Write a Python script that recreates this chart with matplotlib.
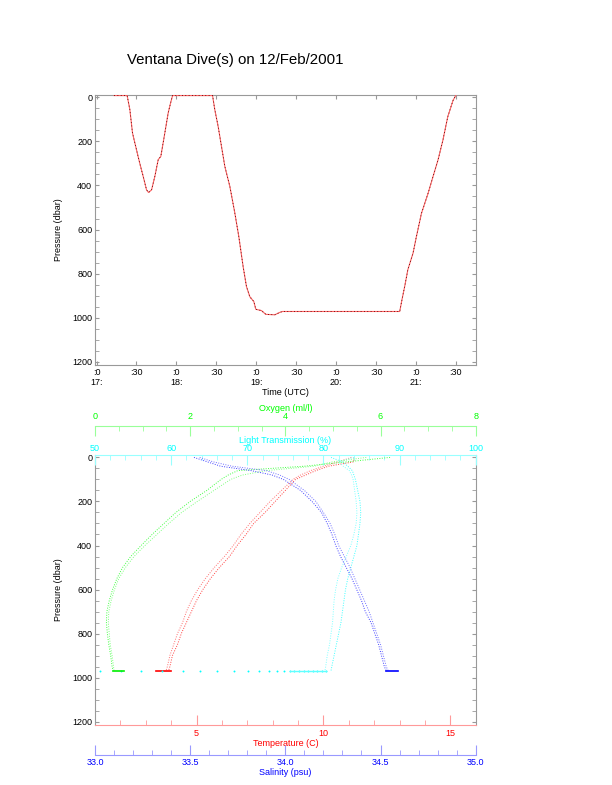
import matplotlib
matplotlib.use("Agg")
import matplotlib.pyplot as plt
from matplotlib.ticker import MultipleLocator, FormatStrFormatter

plt.rcParams['font.family'] = ['Liberation Sans', 'DejaVu Sans']

# dive track (hours UTC, dbar)
DIVE_TIME = [17.22, 17.383, 17.417, 17.45, 17.50, 17.54, 17.584, 17.626, 17.651, 17.689,
             17.73, 17.772, 17.805, 17.855, 17.897, 17.927, 17.952, 18.453, 18.481, 18.523,
             18.565, 18.607, 18.67, 18.732, 18.782, 18.836, 18.878, 18.92, 18.97, 18.995,
             19.066, 19.12, 19.233, 19.296, 19.33, 20.798, 20.827, 20.861, 20.90, 20.965,
             21.007, 21.07, 21.153, 21.215, 21.278, 21.34, 21.40, 21.466, 21.50]
DIVE_PRES = [-8, -8, 56, 162, 238, 298, 359, 420, 432, 420,
             359, 283, 268, 162, 71, 26, -8, -8, 56, 132,
             223, 314, 405, 525, 632, 768, 859, 905, 927, 962,
             968, 985, 987, 976, 972, 972, 917, 857, 782, 707,
             632, 527, 436, 360, 284, 193, 88, 14, -8]
TIME_TICKS = [17.0, 17.5, 18.0, 18.5, 19.0, 19.5, 20.0, 20.5, 21.0, 21.5]
TIME_LABELS = [":0\n17:", ":30\n", ":0\n18:", ":30\n", ":0\n19:", ":30\n",
               ":0\n20:", ":30\n", ":0\n21:", ":30\n"]

# profiles: down and up casts
PROF_PRES = [0, 20, 40, 60, 80, 100, 150, 200, 250, 300, 350, 400, 450, 500,
             550, 600, 650, 700, 750, 800, 850, 900, 950, 968]
TEMP_DOWN = [11.2, 11.2, 10.2, 9.7, 9.3, 8.9, 8.5, 8.1, 7.7, 7.25, 6.95, 6.6, 6.3, 5.9,
             5.55, 5.25, 5.0, 4.8, 4.6, 4.4, 4.25, 4.05, 3.95, 3.9]
TEMP_UP = [11.1, 10.6, 10.0, 9.5, 9.1, 8.8, 8.35, 7.9, 7.5, 7.1, 6.75, 6.45, 6.1, 5.7,
           5.35, 5.05, 4.8, 4.6, 4.45, 4.25, 4.1, 3.95, 3.85, 3.8]
SAL_DOWN = [33.52, 33.59, 33.66, 33.82, 33.93, 33.99, 34.08, 34.14, 34.19, 34.22, 34.245,
            34.265, 34.29, 34.32, 34.35, 34.375, 34.40, 34.42, 34.45, 34.47, 34.49,
            34.505, 34.52, 34.53]
SAL_UP = [33.55, 33.62, 33.72, 33.90, 33.97, 34.02, 34.10, 34.16, 34.20, 34.235, 34.26,
          34.28, 34.31, 34.34, 34.365, 34.39, 34.415, 34.44, 34.46, 34.48, 34.50,
          34.515, 34.53, 34.54]
OXY_DOWN = [6.2, 5.3, 4.4, 3.0, 2.8, 2.65, 2.35, 2.0, 1.7, 1.45, 1.2, 0.97, 0.75, 0.58,
            0.46, 0.37, 0.30, 0.25, 0.24, 0.26, 0.29, 0.33, 0.36, 0.38]
OXY_UP = [5.7, 5.0, 4.6, 3.6, 3.1, 2.85, 2.5, 2.15, 1.82, 1.55, 1.3, 1.05, 0.82, 0.64,
          0.5, 0.41, 0.34, 0.29, 0.28, 0.30, 0.32, 0.36, 0.39, 0.40]
LIGHT_DOWN = [81.0, 82.5, 83.2, 83.8, 84.0, 84.2, 84.5, 84.8, 84.9, 84.8, 84.6, 84.4, 84.0,
              83.6, 83.2, 82.9, 82.7, 82.5, 82.3, 82.0, 81.7, 81.4, 81.1, 81.0]
LIGHT_UP = [84.0, 82.0, 82.6, 83.4, 83.7, 83.9, 84.1, 84.3, 84.4, 84.3, 84.0, 83.6, 83.0,
            82.4, 81.9, 81.6, 81.4, 81.3, 81.2, 81.0, 80.8, 80.5, 80.3, 80.2]

# time spent at the bottom
BOTTOM_PRES = 968
TEMP_BOTTOM = [3.4, 4.0]
OXY_BOTTOM = [0.38, 0.6]
SAL_BOTTOM = [34.53, 34.59]
LIGHT_BOTTOM = [50.6, 53.4, 56.0, 58.8, 61.5, 63.8, 66.0, 68.2, 70.1, 71.6, 72.8, 73.9,
                74.8, 75.6, 76.2, 76.8, 77.4, 78.0, 78.6, 79.2, 79.8, 80.4]

GRAY = "#999999"
FS = 6.5
DOT = (0, (1, 1.5))


def style_yaxis(ax):
    ax.set_ylim(1215, -12)
    ax.yaxis.set_major_locator(MultipleLocator(200))
    ax.yaxis.set_minor_locator(MultipleLocator(50))
    ax.tick_params(axis="y", which="both", direction="in", left=True, right=True,
                   length=3, color=GRAY, labelsize=FS, pad=2)
    ax.set_ylabel("Pressure (dbar)", fontsize=FS)
    ax.yaxis.set_label_coords(-0.085, 0.5)


def color_axis(ax, side, color, tick_color, lims, major, minor, label, pad_tick, pad_lab):
    ax.set_xlim(*lims)
    ax.xaxis.set_major_locator(MultipleLocator(major))
    ax.xaxis.set_minor_locator(MultipleLocator(minor))
    ax.tick_params(axis="x", which="major", direction="in", length=7.5, color=tick_color,
                   labelcolor=color, labelsize=FS, pad=pad_tick)
    ax.tick_params(axis="x", which="minor", direction="in", length=3.5, color=tick_color)
    ax.spines[side].set_color(tick_color)
    ax.set_xlabel(label, color=color, fontsize=FS, labelpad=pad_lab)


fig = plt.figure(figsize=(6.12, 7.85), dpi=100)
fig.text(0.384, 0.9236, "Ventana Dive(s) on 12/Feb/2001", ha="center", va="center",
         fontsize=10.8)

# top: pressure vs time
ax1 = fig.add_axes([0.1552, 0.535, 0.6221, 0.3444])
ax1.plot(DIVE_TIME, DIVE_PRES, color="#ff6060", linewidth=0.8, zorder=3)
ax1.plot(DIVE_TIME, DIVE_PRES, color="#400000", linewidth=0.6, linestyle=(0, (1, 3)),
         zorder=3)
ax1.set_xlim(16.98, 21.75)
style_yaxis(ax1)
ax1.set_xticks(TIME_TICKS)
ax1.set_xticklabels(TIME_LABELS, linespacing=1.1)
ax1.tick_params(axis="x", direction="in", top=True, bottom=True, length=3, color=GRAY,
                labelsize=FS, pad=2)
ax1.set_xlabel("Time (UTC)", fontsize=FS, labelpad=1)
for s in ax1.spines.values():
    s.set_color(GRAY)

# bottom: profiles
ax2 = fig.add_axes([0.1552, 0.0764, 0.6221, 0.3443])
style_yaxis(ax2)
ax2.spines["left"].set_color(GRAY)
ax2.spines["right"].set_color(GRAY)
ax2.spines["top"].set_visible(False)
color_axis(ax2, "bottom", "#ff0000", "#ff9999", (1.0, 16.0), 5, 1, "Temperature (C)", 3, 0.5)

ax_lt = ax2.twiny()
ax_lt.xaxis.set_label_position("top")
ax_lt.xaxis.tick_top()
for s in ["left", "right", "bottom"]:
    ax_lt.spines[s].set_visible(False)
color_axis(ax_lt, "top", "#00ffff", "#99ffff", (50, 100), 10, 2, "Light Transmission (%)",
           1.5, 0.8)

ax_ox = ax2.twiny()
ax_ox.xaxis.set_label_position("top")
ax_ox.xaxis.tick_top()
for s in ["left", "right", "bottom"]:
    ax_ox.spines[s].set_visible(False)
ax_ox.spines["top"].set_position(("outward", 21))
color_axis(ax_ox, "top", "#00ff00", "#99ff99", (0, 8), 2, 0.5, "Oxygen (ml/l)", 3.0, 1.2)

ax_sa = ax2.twiny()
ax_sa.xaxis.set_label_position("bottom")
ax_sa.xaxis.tick_bottom()
for s in ["left", "right", "top"]:
    ax_sa.spines[s].set_visible(False)
ax_sa.spines["bottom"].set_position(("outward", 21.6))
color_axis(ax_sa, "bottom", "#0000ff", "#9999ff", (33.0, 35.0), 0.5, 0.1, "Salinity (psu)",
           2.5, 0.3)
ax_sa.xaxis.set_major_formatter(FormatStrFormatter("%.1f"))

for a in (ax_lt, ax_ox, ax_sa):
    a.patch.set_visible(False)
    a.set_ylim(1215, -12)

ax2.plot(TEMP_DOWN, PROF_PRES, color="#ff4040", lw=0.7, ls=DOT)
ax2.plot(TEMP_UP, PROF_PRES, color="#ff7070", lw=0.7, ls=DOT)
ax2.plot(TEMP_BOTTOM, [BOTTOM_PRES] * 2, color="#ff0000", lw=1.2)

ax_sa.plot(SAL_DOWN, PROF_PRES, color="#4040ff", lw=0.7, ls=DOT)
ax_sa.plot(SAL_UP, PROF_PRES, color="#7070ff", lw=0.7, ls=DOT)
ax_sa.plot(SAL_BOTTOM, [BOTTOM_PRES] * 2, color="#0000ff", lw=1.2)

ax_ox.plot(OXY_DOWN, PROF_PRES, color="#40ff40", lw=0.7, ls=DOT)
ax_ox.plot(OXY_UP, PROF_PRES, color="#80ff80", lw=0.7, ls=DOT)
ax_ox.plot(OXY_BOTTOM, [BOTTOM_PRES] * 2, color="#00ee00", lw=1.2)

ax_lt.plot(LIGHT_DOWN, PROF_PRES, color="#40ffff", lw=0.7, ls=DOT)
ax_lt.plot(LIGHT_UP, PROF_PRES, color="#80ffff", lw=0.7, ls=DOT)
ax_lt.plot(LIGHT_BOTTOM, [BOTTOM_PRES] * len(LIGHT_BOTTOM), ls="none", marker="o",
           markersize=1.4, markeredgewidth=0, color="#00ffff")
ax_lt.plot(LIGHT_BOTTOM[-9:], [BOTTOM_PRES] * 9, color="#60ffff", lw=1.0)

fig.savefig("out.png", dpi=100)
